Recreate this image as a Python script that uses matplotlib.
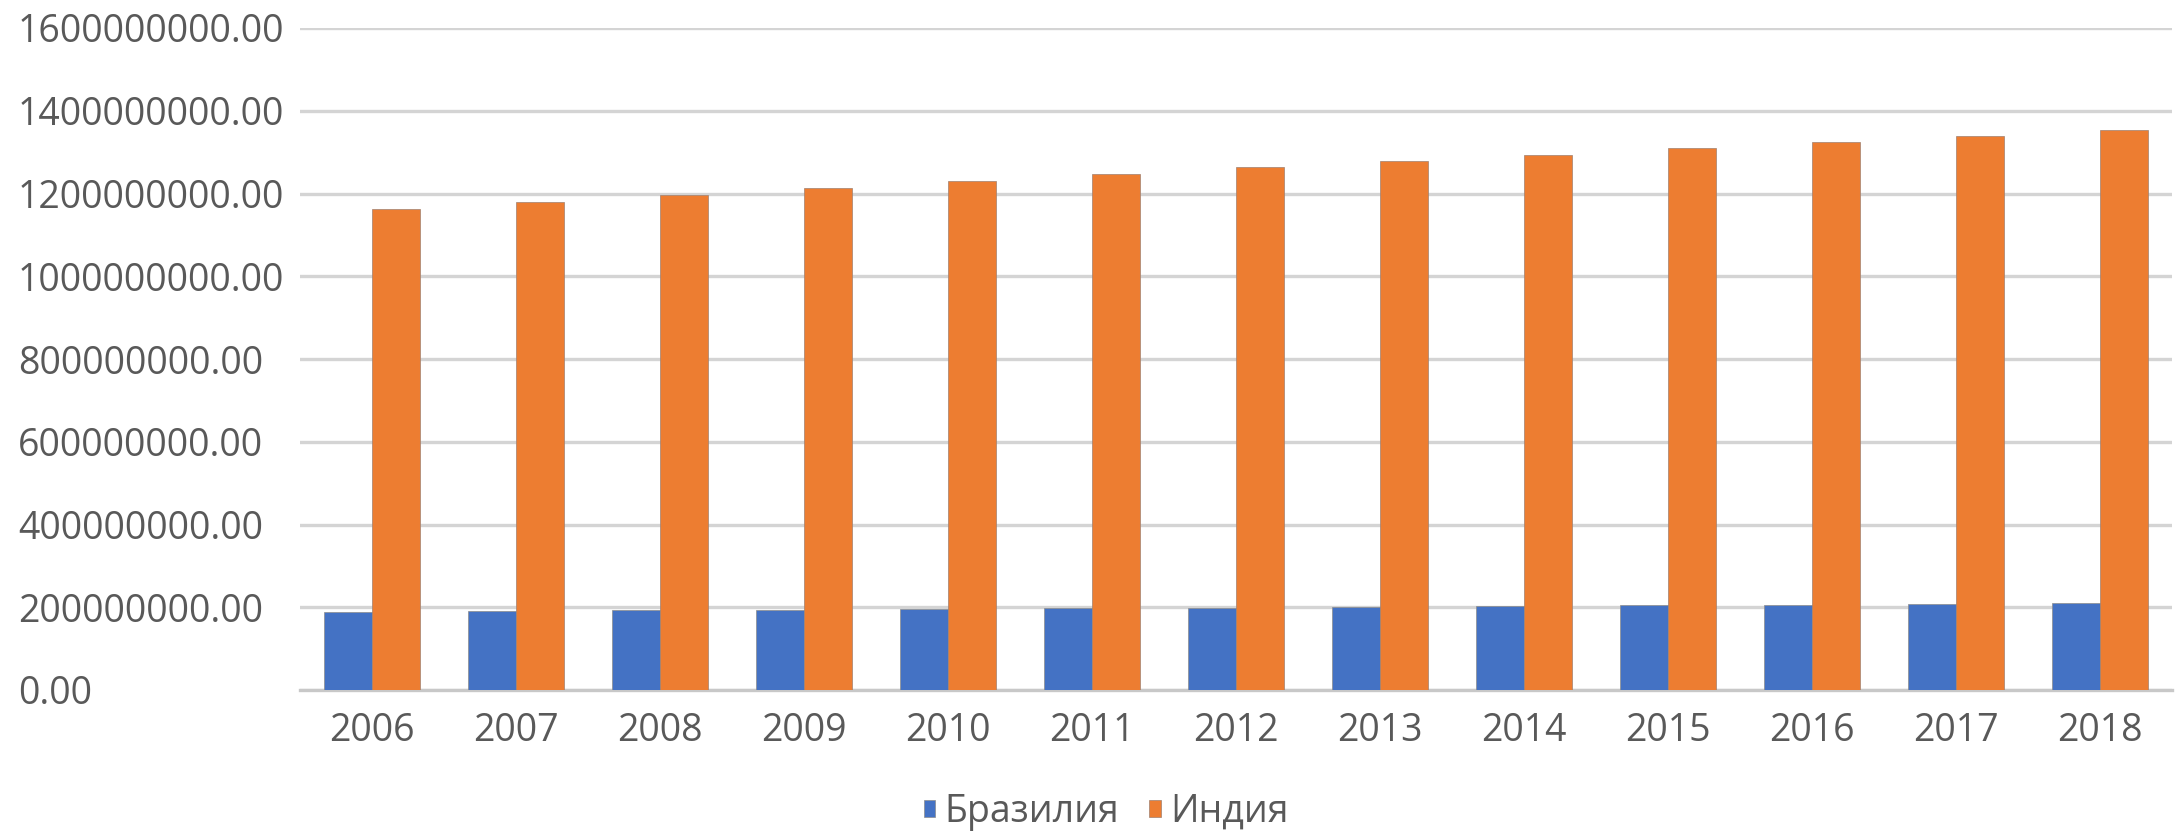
import numpy as np
import matplotlib
matplotlib.use("Agg")
import matplotlib.pyplot as plt

years = ["2006", "2007", "2008", "2009", "2010", "2011", "2012",
         "2013", "2014", "2015", "2016", "2017", "2018"]
brazil = [189.0e6, 190.7e6, 192.4e6, 194.0e6, 195.7e6, 197.5e6, 199.3e6,
          201.0e6, 202.8e6, 204.5e6, 206.2e6, 207.8e6, 209.5e6]
india = [1162.1e6, 1179.7e6, 1197.1e6, 1214.2e6, 1230.98e6, 1247.2e6, 1263.1e6,
         1279.5e6, 1293.9e6, 1309.1e6, 1324.2e6, 1338.7e6, 1352.6e6]
yticks = [0, 200e6, 400e6, 600e6, 800e6, 1000e6, 1200e6, 1400e6, 1600e6]

plt.rcParams['font.family'] = ['Open Sans', 'DejaVu Sans']
txt = "#595959"

fig = plt.figure(figsize=(21.82, 8.33), dpi=100)
ax = fig.add_axes([300/2182, 1-690/833, 1872/2182, 662/833])

x = np.arange(len(years))
w = 0.33
ax.bar(x - w/2, brazil, w, color="#4472C4", label="Бразилия", zorder=3,
       edgecolor="#8C8C8C", linewidth=0.5)
ax.bar(x + w/2, india, w, color="#ED7D31", label="Индия", zorder=3,
       edgecolor="#A08070", linewidth=0.5)

ax.set_xlim(-0.5, len(years) - 0.5)
ax.set_ylim(0, 1600e6)
ax.set_yticks(yticks)
ax.set_yticklabels(["%.2f" % v for v in yticks])
ax.set_xticks(x)
ax.set_xticklabels(years)
ax.yaxis.grid(True, color="#D4D4D4", linewidth=2.4, zorder=0)
ax.set_axisbelow(True)
for s in ["top", "right", "left"]:
    ax.spines[s].set_visible(False)
ax.spines["bottom"].set_color("#C8C8C8")
ax.spines["bottom"].set_linewidth(2.4)

ax.tick_params(axis="y", length=0, pad=203, labelsize=27, labelcolor=txt)
ax.tick_params(axis="x", length=0, pad=16, labelsize=27, labelcolor=txt)
for lab in ax.get_yticklabels():
    lab.set_horizontalalignment("left")

fig.legend(loc="center", bbox_to_anchor=(0.507, 1-812/833), ncol=2, frameon=False,
           fontsize=27, labelcolor=txt, handlelength=0.3, handleheight=0.3,
           handletextpad=0.25, columnspacing=0.8)

fig.savefig("out.png", dpi=100)
